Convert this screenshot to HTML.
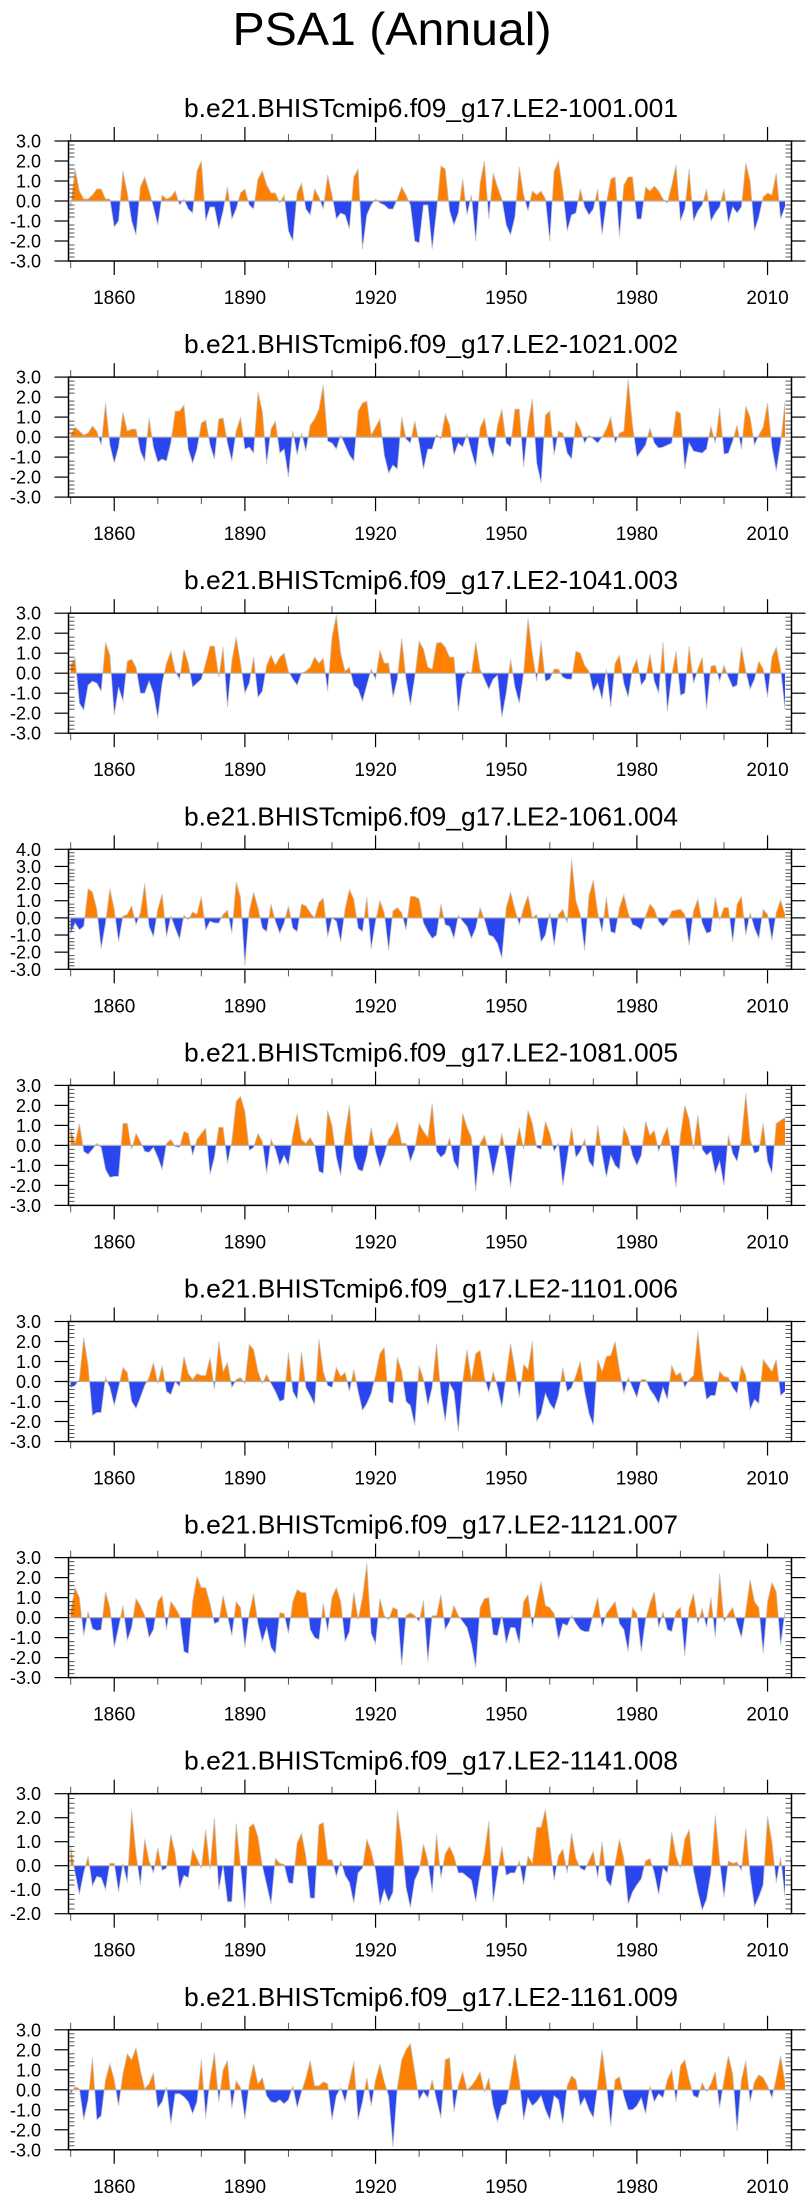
<!DOCTYPE html>
<html><head><meta charset="utf-8"><title>PSA1 (Annual)</title>
<style>
html,body{margin:0;padding:0;background:#fff;}
svg{display:block;font-family:"Liberation Sans",Arial,sans-serif;}
</style></head>
<body>
<svg id="fig" width="811" height="2201" viewBox="0 0 811 2201" xmlns="http://www.w3.org/2000/svg">
<text x="392" y="45" font-size="46" text-anchor="middle" textLength="319" lengthAdjust="spacingAndGlyphs">PSA1 (Annual)</text>
</svg>
<script>
const startYear = 1850;
const memberNames = ["b.e21.BHISTcmip6.f09_g17.LE2-1001.001","b.e21.BHISTcmip6.f09_g17.LE2-1021.002","b.e21.BHISTcmip6.f09_g17.LE2-1041.003","b.e21.BHISTcmip6.f09_g17.LE2-1061.004","b.e21.BHISTcmip6.f09_g17.LE2-1081.005","b.e21.BHISTcmip6.f09_g17.LE2-1101.006","b.e21.BHISTcmip6.f09_g17.LE2-1121.007","b.e21.BHISTcmip6.f09_g17.LE2-1141.008","b.e21.BHISTcmip6.f09_g17.LE2-1161.009"];
const yMins = [-3,-3,-3,-3,-3,-3,-3,-2,-3];
const yMaxs = [3,3,3,4,3,3,3,3,3];
const xTickYears = [1860,1890,1920,1950,1980,2010];
const xTickLabels = ["1860","1890","1920","1950","1980","2010"];
const xMinorYears = [1850,1870,1880,1900,1910,1930,1940,1960,1970,1990,2000];
const s1 = [-0.3,1.6,0.5,0.1,0.1,0.3,0.6,0.6,0.1,0.1,
-1.3,-1.0,1.5,0.4,-1.0,-1.7,0.7,1.2,0.5,-0.3,
-1.2,0.3,0.1,0.2,0.5,-0.2,0.1,-0.4,-0.6,1.5,
2.0,-1.0,-0.3,-0.3,-1.4,-0.5,0.7,-0.9,-0.4,0.4,
0.6,-0.2,-0.4,1.1,1.5,0.8,0.4,0.4,-0.1,0.3,
-1.5,-2.0,0.4,0.9,-0.4,-0.7,0.6,0.2,-0.4,1.3,
0.3,-0.9,-0.6,-0.7,-1.4,1.2,1.6,-2.4,-0.7,-0.2,
0.1,-0.1,-0.2,-0.4,-0.4,0.1,0.7,0.3,-0.2,-2.0,
-2.1,-0.2,-0.2,-2.4,-0.5,1.75,1.6,-0.5,-1.2,-0.6,
1.1,-0.7,0.3,-2.0,0.9,2.0,-0.9,1.4,0.7,0.1,
-1.2,-1.7,-0.8,1.7,0.3,-0.5,0.5,0.3,0.5,0.1,
-2.0,1.5,2.0,0.5,-1.5,-0.7,-0.6,0.6,-0.3,-0.7,
-0.4,0.6,-1.7,-0.1,1.1,1.2,-1.8,0.8,1.2,1.2,
-0.9,-0.9,0.7,0.5,0.75,0.5,0.1,-0.1,0.8,1.8,
-1.0,-0.4,1.6,-1.0,-0.5,-0.2,0.6,-1.0,-0.6,-0.3,
0.6,-1.1,-0.3,-0.6,-0.3,1.9,1.0,-1.5,-0.8,0.2,
0.4,0.3,1.4,-0.9,-0.3];
const s2 = [0.1,0.5,0.3,0.1,0.2,0.55,0.3,-0.4,1.7,-0.4,
-1.3,-0.5,1.25,0.3,0.4,0.4,-0.7,-1.2,0.95,-0.5,
-1.25,-1.1,-1.2,-0.3,1.3,1.3,1.6,-0.6,-1.3,-0.6,
0.7,0.85,-0.4,-1.1,0.9,0.95,-0.3,-1.2,0.3,1.0,
-0.6,-0.5,-0.8,2.25,1.3,-1.35,0.4,0.8,-0.8,-0.6,
-2.0,0.3,-0.9,0.2,-0.7,0.6,0.9,1.4,2.6,-0.2,
-0.3,-0.6,0.1,-0.4,-0.9,-1.2,1.3,1.7,1.8,0.1,
0.5,0.9,-0.9,-1.8,-1.4,-1.6,1.0,-0.1,-0.3,0.8,
-0.3,-1.6,-0.6,-0.6,0.15,-0.1,1.15,0.6,-0.9,-0.3,
-0.5,0.15,-0.7,-1.45,0.45,0.95,-0.4,-1.0,0.6,1.4,
-0.3,-0.5,1.4,1.4,-1.5,0.6,1.9,-1.3,-2.3,1.1,
1.3,-0.9,0.3,0.2,-0.8,-1.1,0.8,0.4,-0.3,0.1,
-0.1,-0.3,0,0.4,1.0,-0.3,0.2,0.3,2.9,0.6,
-1.0,-0.7,-0.4,0.45,-0.3,-0.55,-0.5,-0.4,-0.3,1.3,
1.2,-1.6,-0.3,-0.7,-0.75,-0.8,-0.6,0.55,-0.3,1.45,
-0.85,-0.8,-0.2,0.6,-0.6,1.55,1.0,-0.4,0.1,0.5,
1.7,-0.5,-1.7,-0.3,1.75];
const s3 = [0.4,0.75,-1.5,-1.85,-0.6,-0.4,-0.5,-0.9,1.55,0.9,
-2.1,-0.7,-1.4,0.6,0.7,0.3,-1.0,-1.0,-0.4,-1.0,
-2.25,-0.5,0.5,1.1,0.1,-0.3,1.2,0.5,-0.7,-0.5,
-0.3,0.5,1.35,1.35,-0.2,1.3,-1.7,0.6,1.8,0.5,
-1.0,-0.5,0.8,-1.2,-0.9,0.4,0.9,0.4,0.8,1.0,
0.1,-0.3,-0.6,0,0.1,0.3,0.8,0.5,0.75,-0.9,
1.8,2.9,1.0,0.1,0.3,-0.6,-0.8,-1.4,-0.6,0.2,
-0.3,1.15,0.5,0.5,-1.2,-0.3,1.75,-0.3,-1.6,-0.2,
1.6,1.2,0.3,0.2,1.5,1.55,1.3,0.8,0.8,-1.9,
-0.3,0.1,0,1.55,0.2,-0.3,-0.8,-0.3,-0.1,-2.2,
-1.0,0.7,-0.7,-1.5,0,2.75,1.0,-0.4,1.6,-0.4,
-0.3,0.2,0.2,-0.2,-0.3,-0.3,1.1,1.0,0.4,0.1,
-0.9,-0.5,-1.3,0.2,-1.7,0.5,0.9,-0.5,-1.2,0.2,
0.7,-0.6,-0.3,0.95,-0.4,-1.0,1.55,-1.9,-0.1,1.1,
-1.1,-1.0,1.35,-0.5,0.2,0.8,-1.8,0.35,0.4,-0.4,
0.4,-0.2,-0.7,-0.6,1.3,0.1,-0.8,-0.3,0.6,0.2,
-1.2,0.8,1.3,0.2,-1.8];
const s4 = [-0.9,-0.3,-0.7,-0.5,1.7,1.5,0.5,-1.8,-0.3,1.7,
0.5,-1.4,0.1,0.2,0.7,-0.4,0.3,2.0,-0.5,-1.1,
0.5,1.4,-1.1,0.1,-0.6,-1.25,0.15,-0.1,0.35,0.2,
1.25,-0.7,-0.2,-0.3,-0.3,0.2,0.45,-0.9,2.1,1.2,
-2.8,0.4,1.5,0.6,-0.6,-0.8,0.8,-0.2,-0.9,-0.3,
0.7,-0.6,-0.8,0.8,0.7,0.3,0,0.9,1.15,-1.1,
0,-0.2,-1.4,0.5,1.65,1.1,-0.6,-0.8,1.2,-1.8,
-0.2,1.0,0.3,-1.9,0.4,0.6,0.3,-0.7,1.25,1.25,
1.1,-0.3,-0.8,-1.2,-1.0,0.8,-0.4,-0.5,-1.2,0.15,
-0.2,-0.5,-1.2,-0.6,0.6,-0.1,-1.0,-1.1,-1.5,-2.35,
0.6,1.5,0.5,-0.4,0.6,1.3,0,0.2,-1.4,-1.0,
0.3,-1.6,0.2,0.5,-0.3,3.4,1.0,0.2,-1.9,1.3,
2.2,0.3,-0.8,1.2,-0.8,-0.9,0.6,1.35,0.3,-0.4,
-0.5,-0.7,0.1,0.8,0.5,-0.2,-0.5,-0.2,0.4,0.45,
0.5,0.2,-1.6,0.4,1.1,-0.3,-0.9,-0.8,1.2,-0.1,
0.6,0.6,-1.4,0.8,1.25,-1.0,0.3,-0.6,-1.2,0.5,
0.2,-1.3,0.3,1.05,0.2];
const s5 = [0.8,0.1,1.1,-0.3,-0.45,-0.2,0.1,-0.1,-1.2,-1.6,
-1.55,-1.55,1.1,1.1,-0.2,0.6,0.2,-0.3,-0.35,-0.1,
-0.6,-1.2,0.1,0.3,-0.05,-0.1,0.7,0.6,-0.5,0.3,
0.6,0.85,-1.45,-0.6,0.9,0.9,-0.9,0.2,2.2,2.45,
1.7,-0.25,-0.1,0.6,0.2,-1.4,0.3,-0.2,-1.0,-0.5,
-1.0,0.5,1.6,0.3,0.1,0.4,0,-1.3,-1.4,1.75,
1.0,-0.6,-1.5,0.6,2.0,-0.6,-1.2,-1.3,-0.5,0.9,
-0.3,-1.1,-0.5,0.3,0.6,1.15,0.1,0.1,-0.8,-0.2,
1.1,0.7,0.4,2.1,-0.3,-0.6,-0.4,0.4,-0.8,-1.2,
1.6,0.9,0.4,-2.3,0.1,0.5,-0.3,-1.5,-0.5,0.6,
-0.5,-2.1,-0.3,0.9,-0.2,1.75,1.1,-0.1,-0.2,1.2,
0.6,-0.3,0.1,-2.0,-0.6,0.9,-0.6,-0.3,0.3,-0.8,
-1.1,1.0,-0.4,-1.6,-0.5,-1.0,-1.2,0.9,0.4,-0.5,
-1.0,-0.5,1.2,0.5,0.75,-0.3,0.4,0.9,-0.4,-2.1,
0.5,2.0,1.3,-0.2,1.5,-0.2,-0.5,-0.3,-1.4,-0.8,
-2.0,0.5,-0.4,-0.8,0.3,2.6,0.3,-0.4,-0.3,1.1,
-0.8,-1.4,1.1,1.25,1.4];
const s6 = [-0.3,-0.2,0.1,2.2,0.8,-1.7,-1.55,-1.55,0.2,-0.3,
-1.2,-0.3,0.7,0.45,-1.0,-1.35,-0.8,-0.2,0.2,0.95,
-0.1,0.8,-0.5,-0.65,0,-0.25,1.25,0.4,0.1,0.4,
0.3,0.3,1.2,-0.4,2.0,0.5,0.95,-0.3,0.1,0.2,
-0.1,1.85,1.6,0.5,-0.1,0.35,-0.1,-0.5,-1.0,-0.9,
1.45,-0.5,-0.9,1.5,-0.3,-0.7,-1.15,2.1,0.5,-0.2,
-0.3,0.7,0.25,0.45,-0.5,0.6,-0.5,-1.45,-1.1,-0.6,
0.3,1.4,1.7,-1.0,-1.1,1.2,0.5,-1.0,-1.2,-2.2,
0.8,0.1,-1.2,-0.3,1.9,-0.6,-2.0,-0.1,-0.5,-2.5,
0,1.6,0.1,1.4,1.55,0.2,-0.55,0.5,-0.3,-1.3,
0.3,1.9,0.6,-0.8,0.85,0.6,2.0,-2.0,-1.6,-0.6,
-1.1,-1.4,-0.7,0.7,-0.5,-0.3,0.3,1.0,-0.5,-1.6,
-2.2,1.1,0.5,1.25,1.3,2.0,0.6,-0.6,0.2,-0.3,
-0.8,0.1,0.1,-0.4,-0.7,-1.1,-0.3,-0.9,0.8,0.3,
0.45,-0.3,0.1,0.3,2.5,0.5,-0.9,-0.7,-0.7,0.5,
0.25,0.2,-0.3,-0.6,0.8,0.3,-1.4,-0.9,-1.1,1.1,
0.8,0.5,1.1,-0.7,-0.5];
const s7 = [0.3,1.5,1.0,-0.9,0.3,-0.55,-0.65,-0.6,1.3,0.5,
-1.5,-0.5,0.6,-1.15,-0.5,0.95,0.6,0.1,-1.0,-0.6,
0.8,1.1,-0.6,0.8,0.5,0.1,-1.7,-1.8,0.8,2.05,
1.5,1.5,0.7,-0.3,-0.2,1.1,0.1,-0.9,0.8,0.5,
-1.5,0.2,1.2,-0.3,-1.2,-0.5,-1.5,-1.8,0.25,0.2,
-0.8,0.8,1.4,1.25,1.25,-0.6,-1.0,-1.1,0.7,-0.7,
1.0,1.5,0.8,-1.2,-0.7,1.25,-0.1,1.0,2.7,-0.8,
-1.3,0.95,0.1,-0.1,0.5,0.4,-2.4,0.1,0.25,0.1,
-0.2,0.85,-2.2,0.1,0.1,1.15,-0.6,-0.2,0.6,0.1,
-0.2,-0.5,-1.3,-2.5,0.5,0.95,1.0,-0.85,-0.9,0.1,
-1.3,-0.5,-0.5,-1.3,0.8,1.15,-0.5,0.8,1.8,0.6,
0.5,0.2,-1.1,-0.3,-0.4,0.1,-0.3,-0.6,-0.7,-0.7,
0.2,1.0,-0.5,0.2,0.5,0.8,-0.3,-0.6,-1.7,0.5,
0.2,-1.7,-0.1,0.7,1.3,-0.5,0.3,-0.6,-0.7,0.3,
0.5,-1.9,0.5,1.2,-0.3,0.45,-0.5,1.0,-1.0,2.2,
-0.2,0.2,0.5,-0.3,-1.0,0.3,1.9,0.8,0.5,-1.8,
0.8,1.75,1.3,-1.4,0.3];
const s8 = [0.8,-0.3,-1.2,-0.3,0.4,-0.85,-0.45,-0.5,-1.0,0.1,
0.1,-1.1,0.1,-0.7,2.3,0.5,-0.8,1.1,0.2,-0.3,
0.75,-0.2,-0.1,1.3,0.5,-0.95,-0.4,-0.5,0.7,0.3,
-0.1,1.5,-0.15,2.0,-1.0,0,-1.5,-1.5,1.75,0,
-1.8,1.6,1.75,1.2,0,-0.8,-1.6,0.3,0.1,0.05,
-0.7,-0.75,0.95,1.35,0.4,-1.35,-1.35,1.7,1.8,0.25,
0.25,-0.45,0.2,-0.4,-0.7,-1.55,-0.3,-0.1,1.1,0.6,
-0.2,-1.65,-1.0,-1.5,-1.1,2.3,1.0,-0.9,-1.75,-0.6,
-0.2,0.9,0.2,-1.1,1.3,-0.5,0.5,0.8,0.4,-0.3,
-0.3,-0.45,-0.6,-1.5,-0.3,0.5,1.85,-1.5,-0.3,0.8,
-0.4,-0.3,-0.3,0.2,-0.8,0.4,0.1,1.6,1.6,2.35,
0.9,-0.6,0.4,0.7,-0.3,1.35,0.3,-0.1,-0.2,0.2,
0.6,-0.5,1.0,-0.6,-0.85,0.1,1.1,0.3,-1.6,-1.1,
-0.8,-0.55,0.2,0.3,-0.3,-1.2,-0.1,-0.3,1.4,0.4,
-0.1,1.1,1.5,-0.2,-1.1,-1.85,-1.4,-0.3,2.1,0.2,
-1.3,0.2,0.1,0.15,-0.2,1.55,-0.4,-1.7,-1.3,-0.8,
2.05,1.0,-0.7,0.35,-1.3];
const s9 = [-0.2,0.15,0.05,-1.5,-0.5,1.6,-1.5,-1.3,0.5,1.3,
0.5,-0.8,0.8,1.8,1.5,2.1,1.0,0.05,0.3,0.85,
-0.9,-0.6,0.15,-1.7,-0.2,-0.2,-0.35,-0.6,-1.2,-0.6,
1.5,-1.4,0.5,1.85,-0.6,1.0,1.45,-0.9,0.45,0.1,
-1.45,0.3,1.3,0.3,0.6,-0.3,-0.6,-0.65,-0.5,-0.7,
-0.5,0.2,-0.9,-0.1,0.6,1.45,0.2,0.2,0.4,0.3,
-1.5,-0.3,0.1,-0.6,0.4,1.4,-1.5,-0.6,0.6,-0.8,
0.5,1.3,0.4,-0.3,-2.85,0.1,1.5,2.0,2.3,0.9,
-0.5,-0.1,-0.4,0.5,-0.5,-1.4,1.5,1.6,-1.1,0.2,
0.9,0,0.2,0.5,0.9,-0.1,0.6,-0.8,-1.6,-0.8,
-0.7,0.5,1.8,0.5,-1.5,-0.4,-0.8,-0.6,-0.3,-1.0,
-1.5,-0.3,-0.5,-1.7,0.2,0.7,0.5,-0.8,-0.4,-1.0,
-1.4,0.2,2.0,0.3,-1.8,0.5,0.65,-0.3,-1.0,-1.0,
-0.8,-0.4,-1.2,0.2,-0.6,-0.2,-0.4,0.5,1.0,-0.6,
1.2,1.5,0.5,-0.3,-0.4,0.35,-0.1,0.3,0.9,-0.9,
0.5,1.7,0.8,-2.05,0.5,1.45,-0.6,0.4,0.75,0.6,
0.2,-0.4,0.6,1.7,0.4];
const seriesList = [s1,s2,s3,s4,s5,s6,s7,s8,s9];

const NS = "http://www.w3.org/2000/svg";
const svg = document.getElementById("fig");
const X0 = 68.5, X1 = 791.5, XMIN = 1849.5, XMAX = 2015.5;
const PH = 120;
function xScale(yr){ return X0 + (yr - XMIN) * (X1 - X0) / (XMAX - XMIN); }
function mk(tag, attrs, parent){
  const e = document.createElementNS(NS, tag);
  for (const k in attrs) e.setAttribute(k, attrs[k]);
  (parent || svg).appendChild(e);
  return e;
}
const ORANGE = "#ff8000", BLUE = "#2a46ee", EDGE = "#c4c4c4";

seriesList.forEach((vals, i) => {
  const top = 141 + i * 236.1, bot = top + PH;
  const ymin = yMins[i], ymax = yMaxs[i];
  const yScale = v => bot - (v - ymin) * PH / (ymax - ymin);
  const zero = yScale(0);
  const g = mk("g", {});
  
  

  const t = mk("text", {x: 431, y: top - 24, "font-size": 26, "text-anchor": "middle", textLength: 494, lengthAdjust: "spacingAndGlyphs"}, g);
  t.textContent = memberNames[i];
  
  

  // clip paths
  const cidA = "ca" + i, cidB = "cb" + i;
  const cpA = mk("clipPath", {id: cidA}, g); mk("rect", {x: X0, y: top, width: X1 - X0, height: zero - top}, cpA);
  const cpB = mk("clipPath", {id: cidB}, g); mk("rect", {x: X0, y: zero, width: X1 - X0, height: bot - zero}, cpB);

  let d = "M" + xScale(startYear).toFixed(2) + "," + zero.toFixed(2);
  let line = "";
  vals.forEach((v, k) => {
    const px = xScale(startYear + k).toFixed(2), py = yScale(v).toFixed(2);
    d += " L" + px + "," + py;
    line += (k ? " " : "") + px + "," + py;
  });
  d += " L" + xScale(startYear + vals.length - 1).toFixed(2) + "," + zero.toFixed(2) + " Z";
  const pos = mk("path", {d: d, fill: ORANGE, "clip-path": "url(#" + cidA + ")"}, g);
  
  
  const neg = mk("path", {d: d, fill: BLUE, "clip-path": "url(#" + cidB + ")"}, g);
  
  
  const pl = mk("polyline", {points: line, fill: "none", stroke: EDGE, "stroke-width": 0.8}, g);
  
  
  const zl = mk("line", {x1: X0, x2: X1, y1: zero, y2: zero, stroke: "#b0b0b0", "stroke-width": 1.2}, g);
  
  

  // y ticks
  for (let v = ymin; v <= ymax + 1e-9; v += 0.2) {
    const yy = yScale(v);
    const isMaj = Math.abs(v - Math.round(v)) < 1e-6;
    if (isMaj) {
      mk("line", {x1: X0 - 14, x2: X0, y1: yy, y2: yy, stroke: "#000", "stroke-width": 1.2}, g);
      mk("line", {x1: X1, x2: X1 + 14, y1: yy, y2: yy, stroke: "#000", "stroke-width": 1.2}, g);
      const lb = mk("text", {x: 41, y: yy + 6.5, "font-size": 18, "text-anchor": "end"}, g);
      lb.textContent = Math.round(v).toFixed(1);
      
      
    } else {
      mk("line", {x1: X0, x2: X0 + 6, y1: yy, y2: yy, stroke: "#555", "stroke-width": 1}, g);
      mk("line", {x1: X1 - 6, x2: X1, y1: yy, y2: yy, stroke: "#555", "stroke-width": 1}, g);
    }
  }
  // x ticks
  xTickYears.forEach((yr, k) => {
    const xx = xScale(yr);
    mk("line", {x1: xx, x2: xx, y1: top - 14, y2: top, stroke: "#000", "stroke-width": 1.2}, g);
    mk("line", {x1: xx, x2: xx, y1: bot, y2: bot + 14, stroke: "#000", "stroke-width": 1.2}, g);
    const lb = mk("text", {x: xx, y: bot + 43, "font-size": 19, "text-anchor": "middle"}, g);
    lb.textContent = xTickLabels[k];
    
    
  });
  xMinorYears.forEach(yr => {
    const xx = xScale(yr);
    mk("line", {x1: xx, x2: xx, y1: top - 7, y2: top, stroke: "#555", "stroke-width": 1}, g);
    mk("line", {x1: xx, x2: xx, y1: bot, y2: bot + 7, stroke: "#555", "stroke-width": 1}, g);
  });
  const fr = mk("rect", {x: X0, y: top, width: X1 - X0, height: PH, fill: "none", stroke: "#000", "stroke-width": 1.5}, g);
  
  
});
</script>
</body></html>
